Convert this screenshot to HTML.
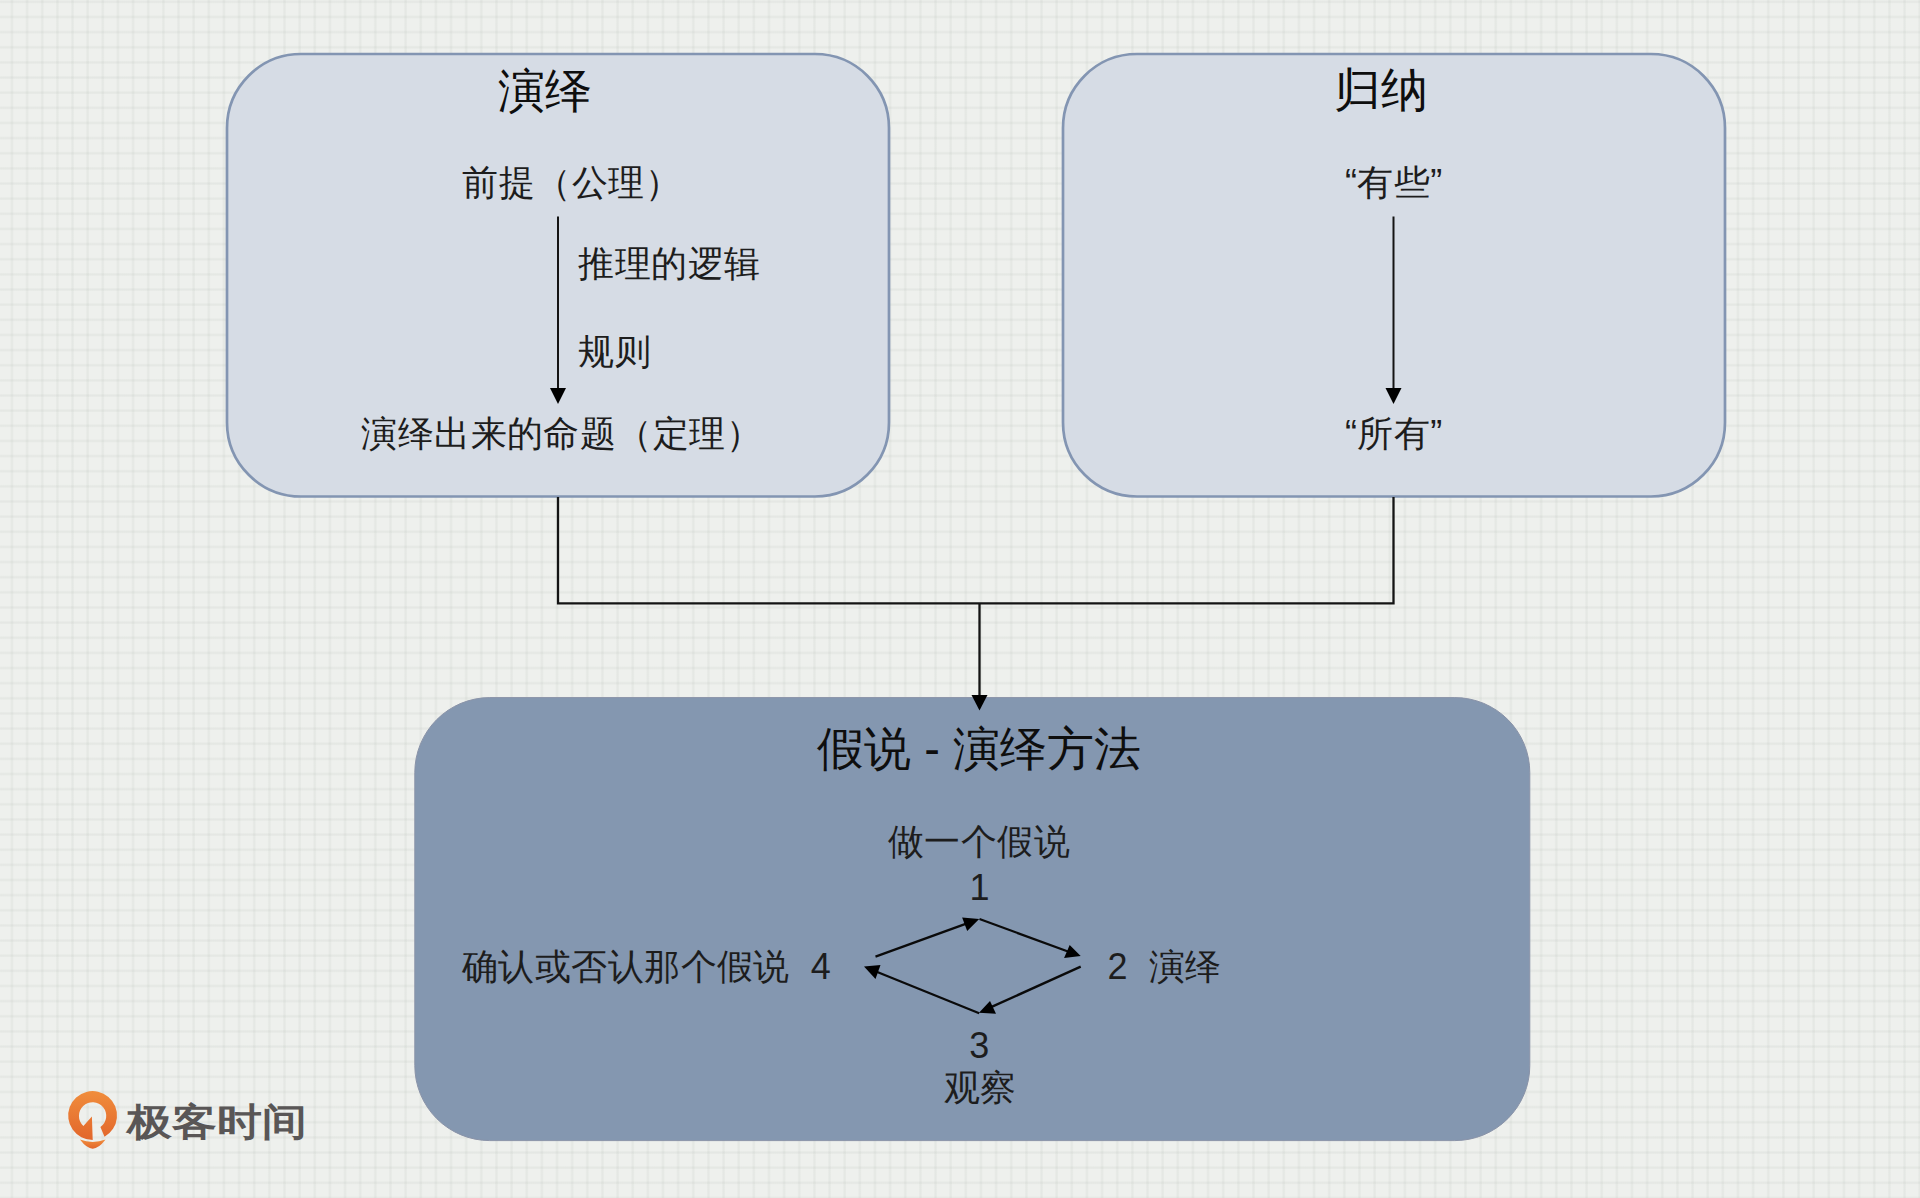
<!DOCTYPE html>
<html><head><meta charset="utf-8">
<style>
html,body{margin:0;padding:0;}
body{width:1920px;height:1198px;overflow:hidden;position:relative;
 background-color:#eef0ed;
 background-image:
  linear-gradient(to right, rgba(170,178,170,0.05) 0, rgba(170,178,170,0.14) 1.2px, rgba(170,178,170,0.14) 1.8px, rgba(170,178,170,0.05) 3px, transparent 3px),
  linear-gradient(to bottom, rgba(170,178,170,0.05) 0, rgba(170,178,170,0.14) 1.2px, rgba(170,178,170,0.14) 1.8px, rgba(170,178,170,0.05) 3px, transparent 3px);
 background-size:15.15px 15.15px;
 background-position:10.5px 0.4px;
 font-family:"Liberation Sans", sans-serif;}
svg{position:absolute;left:0;top:0;}
.t{position:absolute;white-space:nowrap;color:#1d1d1d;line-height:1;}
.h{font-size:47px;color:#0e0e0e;}
.b{font-size:36px;letter-spacing:0.45px;}
</style></head><body>
<svg width="1920" height="1198" viewBox="0 0 1920 1198">
 <rect x="227" y="54" width="662" height="442.5" rx="74" ry="74" fill="#d6dce5" stroke="#8395b2" stroke-width="2.7"/>
 <rect x="1063" y="54" width="662" height="442.5" rx="74" ry="74" fill="#d6dce5" stroke="#8395b2" stroke-width="2.7"/>
 <rect x="414.8" y="697.6" width="1115" height="443" rx="75" ry="75" fill="#8497b0" stroke="#8a93a8" stroke-width="1"/>
 <g stroke="#141414" stroke-width="2.3" fill="none">
  <polyline points="558,497 558,603.4 1393.5,603.4 1393.5,497"/>
  <line x1="979.5" y1="603.4" x2="979.5" y2="696"/>
  <line x1="558" y1="216.5" x2="558" y2="390" stroke-width="2"/>
  <line x1="1393.5" y1="216.5" x2="1393.5" y2="390" stroke-width="2"/>
 </g>
 <g fill="#000">
  <polygon points="971.5,695 987.5,695 979.5,710.5"/>
  <polygon points="550,388 566,388 558,404"/>
  <polygon points="1385.5,388 1401.5,388 1393.5,404"/>
 </g>
 <g stroke="#0a0a0a" stroke-width="2.3" fill="none" stroke-linecap="butt">
  <line x1="875.5" y1="956.6" x2="967" y2="923.4"/>
  <line x1="979.5" y1="919" x2="1068" y2="951.5"/>
  <line x1="1080.7" y1="966.6" x2="990.5" y2="1007.4"/>
  <line x1="979.2" y1="1013.2" x2="876" y2="971.5"/>
 </g>
 <g fill="#000">
  <polygon points="979.2,919 962.1,917.5 967.2,931"/>
  <polygon points="1080.7,956.1 1069.7,945 1064.1,958.1"/>
  <polygon points="979,1012.7 990,1001 996,1013.7"/>
  <polygon points="864,966.6 880.5,965 875.5,979"/>
 </g>
 <defs><linearGradient id="og" x1="0" y1="0" x2="0" y2="1"><stop offset="0" stop-color="#f08d3c"/><stop offset="1" stop-color="#e2662b"/></linearGradient></defs>
 <g transform="translate(60,1085)" fill="url(#og)">
  <path d="M32.7,54.9 A24.4,24.4 0 1 1 44.52,51.79 L40.4,42.1 A13.65,13.65 0 1 0 23.4,41 L31.9,31.6 Z"/>
  <path d="M19.9,54.6 Q32.7,59.5 45.6,54.6 Q38.5,63.8 32.7,63.8 Q27,63.8 19.9,54.6 Z"/>
 </g>
</svg>
<div class="t h" style="left:497.6px;top:67px">演绎</div>
<div class="t b" style="left:462.4px;top:165.4px">前提（公理）</div>
<div class="t b" style="left:578.2px;top:245.8px">推理的逻辑</div>
<div class="t b" style="left:578.2px;top:333.8px">规则</div>
<div class="t b" style="left:361.2px;top:416.1px">演绎出来的命题（定理）</div>
<div class="t h" style="left:1333.5px;top:66.4px">归纳</div>
<div class="t b" style="left:1345px;top:165.3px">“有些”</div>
<div class="t b" style="left:1345px;top:416.3px">“所有”</div>
<div class="t h" style="left:817.1px;top:725.2px">假说 - 演绎方法</div>
<div class="t b" style="left:887.9px;top:824.2px">做一个假说</div>
<div class="t b" style="left:969.4px;top:869.6px">1</div>
<div class="t b" style="left:461.9px;top:949px">确认或否认那个假说&nbsp;&nbsp;4</div>
<div class="t b" style="left:1107.4px;top:948.6px">2&nbsp;&nbsp;演绎</div>
<div class="t b" style="left:969.2px;top:1028.2px">3</div>
<div class="t b" style="left:943.8px;top:1070.3px">观察</div>
<div class="t" style="left:126.8px;top:1102.5px;font-size:38px;font-weight:bold;color:#595656;transform-origin:0 0;transform:scaleX(1.18)">极客时间</div>
</body></html>
